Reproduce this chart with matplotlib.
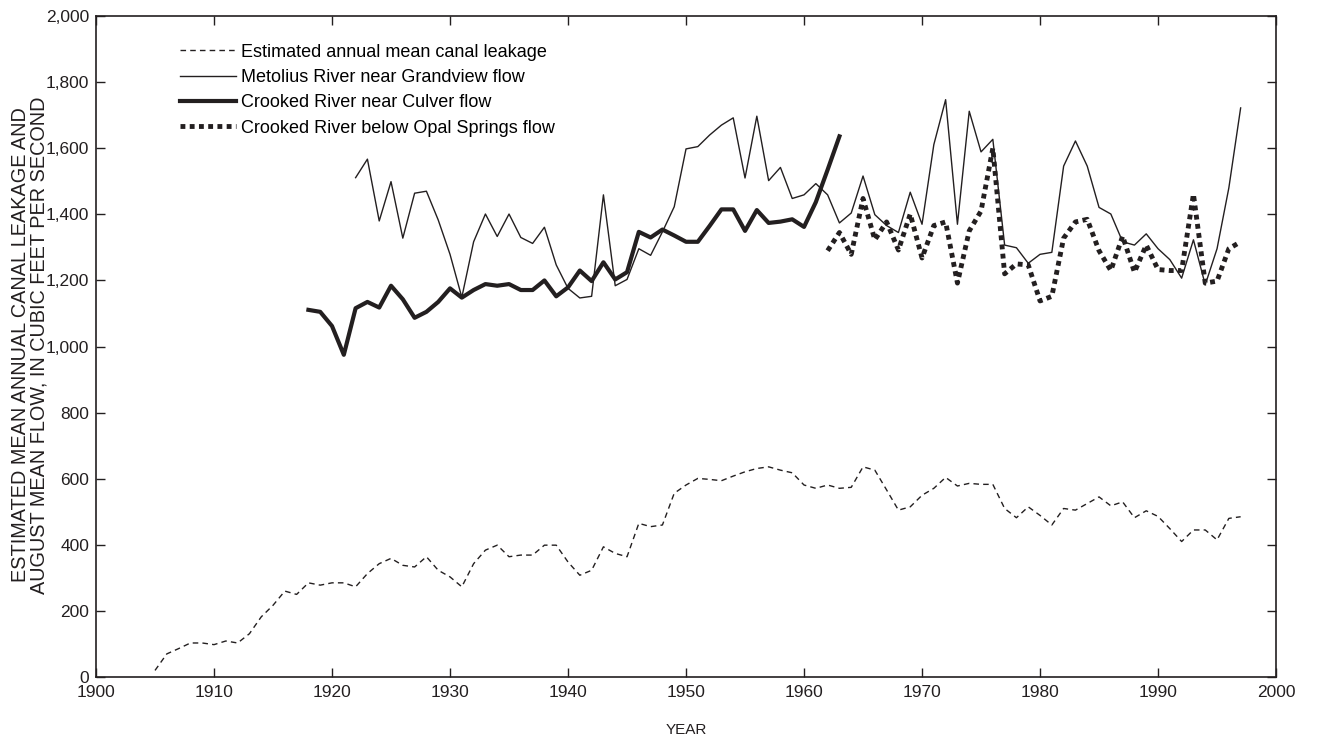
import matplotlib.pyplot as plt
from matplotlib.ticker import FuncFormatter

plt.rcParams['font.family'] = ['Liberation Sans', 'DejaVu Sans']

# estimated annual mean canal leakage, 1905-1997
leak_years = list(range(1905, 1998))
leakage = [20, 70, 86, 103, 103, 98, 109, 103, 131, 182,
           217, 260, 250, 285, 278, 285, 285, 273, 313, 343,
           359, 338, 333, 364, 323, 303, 273, 343, 384, 399,
           364, 369, 369, 399, 399, 348, 308, 323, 394, 374,
           364, 465, 455, 460, 556, 581, 601, 598, 594, 608,
           621, 631, 636, 626, 618, 581, 571, 581, 571, 574,
           636, 626, 566, 505, 515, 550, 571, 604, 578, 586,
           583, 583, 510, 482, 515, 489, 460, 510, 505, 525,
           545, 518, 530, 482, 503, 486, 449, 410, 445, 445,
           415, 480, 485]

# Metolius River near Grandview, August mean flow, 1922-1997
met_years = list(range(1922, 1998))
metolius = [1511, 1567, 1380, 1499, 1328, 1464, 1470, 1383, 1279, 1149,
            1317, 1401, 1333, 1401, 1330, 1312, 1361, 1247, 1176, 1147,
            1152, 1459, 1184, 1203, 1296, 1276, 1347, 1423, 1598, 1605,
            1640, 1670, 1692, 1510, 1697, 1502, 1542, 1448, 1459, 1493,
            1459, 1374, 1404, 1516, 1399, 1366, 1345, 1467, 1370, 1611,
            1747, 1370, 1712, 1589, 1627, 1307, 1299, 1252, 1279, 1285,
            1546, 1622, 1546, 1421, 1401, 1317, 1307, 1341, 1296, 1263,
            1207, 1323, 1187, 1296, 1480, 1722]

# Crooked River near Culver, 1918-1963
culver_years = list(range(1918, 1964))
culver = [1111, 1105, 1062, 975, 1116, 1135, 1118, 1184, 1143, 1087,
          1105, 1135, 1176, 1148, 1171, 1189, 1184, 1189, 1171, 1171,
          1200, 1152, 1179, 1230, 1198, 1255, 1203, 1225, 1347, 1330,
          1354, 1336, 1317, 1317, 1365, 1415, 1415, 1350, 1413, 1374,
          1378, 1385, 1362, 1437, 1535, 1636]

# Crooked River below Opal Springs, 1962-1997
opal_years = list(range(1962, 1998))
opal = [1290, 1345, 1279, 1448, 1323, 1377, 1292, 1401, 1268, 1366,
        1377, 1192, 1350, 1410, 1600, 1220, 1250, 1247, 1138, 1152,
        1328, 1377, 1385, 1290, 1230, 1334, 1225, 1307, 1233, 1230,
        1230, 1461, 1192, 1198, 1296, 1317]

ink = '#231f20'

fig = plt.figure(figsize=(13.17, 7.40), dpi=100)
ax = fig.add_axes([0.0729, 0.0851, 0.896, 0.8932])

ax.plot(leak_years, leakage, color=ink, lw=1.0, dashes=(4, 3),
        label='Estimated annual mean canal leakage')
ax.plot(met_years, metolius, color=ink, lw=1.0,
        label='Metolius River near Grandview flow')
ax.plot(culver_years, culver, color=ink, lw=3.0,
        label='Crooked River near Culver flow')
ax.plot(opal_years, opal, color=ink, lw=3.5, dashes=(1, 0.9),
        label='Crooked River below Opal Springs flow')

ax.set_xlim(1900, 2000)
ax.set_ylim(0, 2000)
ax.set_xticks(range(1900, 2001, 10))
ax.set_yticks(range(0, 2001, 200))
ax.yaxis.set_major_formatter(FuncFormatter(lambda v, p: f'{int(v):,}'))
ax.tick_params(direction='in', length=6.5, width=1, top=True, right=True,
               labelsize=12.5, colors=ink)
ax.tick_params(axis='x', pad=6)
ax.tick_params(axis='y', pad=5)
for s in ax.spines.values():
    s.set_color(ink)
    s.set_linewidth(1.2)

ax.legend(loc='upper left', bbox_to_anchor=(0.0712, 0.958), frameon=False,
          fontsize=13, handlelength=3.1, handletextpad=0.28,
          labelspacing=0.46, borderpad=0, borderaxespad=0)

fig.text(0.0228, 0.534,
         'ESTIMATED MEAN ANNUAL CANAL LEAKAGE AND\nAUGUST MEAN FLOW, IN CUBIC FEET PER SECOND',
         rotation=90, ha='center', va='center', fontsize=14.3,
         linespacing=0.97, color=ink)
fig.text(0.521, 0.0135, 'YEAR', ha='center', va='center', fontsize=11, color=ink)

fig.savefig('out.png', dpi=100)
